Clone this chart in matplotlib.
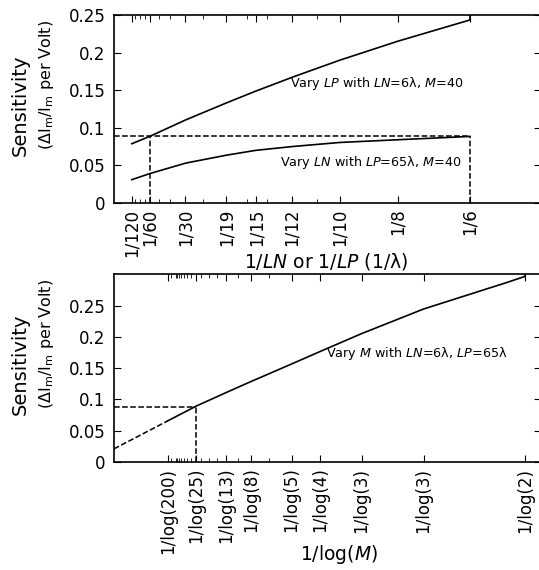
import matplotlib
matplotlib.use("Agg")
import numpy as np
import matplotlib.pyplot as plt

plt.rcParams['font.family'] = 'DejaVu Sans'
plt.rcParams['mathtext.fontset'] = 'dejavusans'

# ---- top panel: sensitivity vs 1/LN or 1/LP ----
top_x = [1/120, 1/60, 1/29.7, 1/18.9, 1/15.06, 1/11.9, 1/9.45, 1/7.52, 1/6]
lp_y = [0.0788, 0.0885, 0.1106, 0.1334, 0.1488, 0.1678, 0.1900, 0.2152, 0.2434]
ln_y = [0.0310, 0.0390, 0.0531, 0.0637, 0.0700, 0.0752, 0.0805, 0.0841, 0.0885]
top_ticks = [1/120, 1/60, 1/30, 1/19, 1/15, 1/12, 1/9.45, 1/7.52, 1/6]
top_tick_labels = ["1/120", "1/60", "1/30", "1/19", "1/15", "1/12", "1/10", "1/8", "1/6"]
top_minor = [1/100, 1/81, 1/70, 1/47, 1/38, 1/24, 1/16, 1/14, 1/10.5]
ref_sens = 0.0885

# ---- bottom panel: sensitivity vs 1/log(M) ----
m_u = [0.1887, 0.2891, 0.3939, 0.4822, 0.6237, 0.7241, 0.8692, 1.0869, 1.3771, 1.4427]
m_y = [0.0658, 0.0895, 0.1111, 0.1289, 0.1568, 0.1768, 0.2053, 0.2447, 0.2868, 0.2968]
extrap_u = [0.0, 0.1887]
extrap_y = [0.021, 0.0658]
bot_ticks = [0.1887, 0.2891, 0.3939, 0.4822, 0.6237, 0.7241, 0.8692, 1.0869, 1.4427]
bot_tick_labels = ["1/log(200)", "1/log(25)", "1/log(13)", "1/log(8)", "1/log(5)",
                   "1/log(4)", "1/log(3)", "1/log(3)", "1/log(2)"]
bot_minor_m = [150, 100, 90, 80, 70, 60, 50, 40, 26, 20, 15.7, 10, 6.3]
m_cross = 0.2891

fig = plt.figure(figsize=(5.39, 5.70), dpi=100)
ax1 = fig.add_axes([0.2115, 0.6439, 0.7925, 0.3298])
ax2 = fig.add_axes([0.2115, 0.1895, 0.7925, 0.3290])

# top
ax1.plot(top_x, lp_y, color="black", lw=1.2)
ax1.plot(top_x, ln_y, color="black", lw=1.2)
ax1.plot([top_x[-1], top_x[-1]], [lp_y[-1], 0.26], color="black", lw=1.2)
ax1.plot([0, top_x[-1]], [ref_sens, ref_sens], "k--", lw=1.1)
ax1.plot([top_x[1], top_x[1]], [0, ref_sens], "k--", lw=1.1)
ax1.plot([top_x[-1], top_x[-1]], [0, ref_sens], "k--", lw=1.1)
ax1.set_xlim(0, 0.2)
ax1.set_ylim(0, 0.25)
ax1.set_yticks([0, 0.05, 0.1, 0.15, 0.2, 0.25])
ax1.set_yticklabels(["0", "0.05", "0.1", "0.15", "0.2", "0.25"])
ax1.set_xticks(top_ticks)
ax1.set_xticklabels(top_tick_labels, rotation=90)
ax1.set_xticks(top_minor, minor=True)
ax1.text(0.0823, 0.159, "Vary $\\it{LP}$ with $\\it{LN}$=6λ, $\\it{M}$=40", fontsize=9.2, va="center")
ax1.text(0.0775, 0.0544, "Vary $\\it{LN}$ with $\\it{LP}$=65λ, $\\it{M}$=40", fontsize=9.2, va="center")
ax1.set_xlabel("1/$\\it{LN}$ or 1/$\\it{LP}$ (1/λ)", fontsize=13.5)
ax1.xaxis.set_label_coords(0.496, -0.255)

# bottom
ax2.plot(m_u, m_y, color="black", lw=1.2)
ax2.plot([m_u[-1], m_u[-1]], [m_y[-1], 0.31], color="black", lw=1.2)
ax2.plot(extrap_u, extrap_y, "k--", lw=1.1)
ax2.plot([0, m_cross], [ref_sens, ref_sens], "k--", lw=1.1)
ax2.plot([m_cross, m_cross], [0, ref_sens], "k--", lw=1.1)
ax2.set_xlim(0, 1.5)
ax2.set_ylim(0, 0.3)
ax2.set_yticks([0, 0.05, 0.1, 0.15, 0.2, 0.25])
ax2.set_yticklabels(["0", "0.05", "0.1", "0.15", "0.2", "0.25"])
ax2.set_xticks(bot_ticks)
ax2.set_xticklabels(bot_tick_labels, rotation=90)
ax2.set_xticks([1 / np.log(m) for m in bot_minor_m], minor=True)
ax2.text(0.745, 0.1737, "Vary $\\it{M}$ with $\\it{LN}$=6λ, $\\it{LP}$=65λ", fontsize=9.2, va="center")
ax2.set_xlabel("1/log($\\it{M}$)", fontsize=13.5)
ax2.xaxis.set_label_coords(0.527, -0.43)

# y labels, two lines each
for ax in (ax1, ax2):
    ax.text(-0.22, 0.52, "Sensitivity", transform=ax.transAxes, rotation=90,
            fontsize=14, ha="center", va="center")
    ax.text(-0.157, 0.63, "(ΔI$_\\mathrm{m}$/I$_\\mathrm{m}$ per Volt)", transform=ax.transAxes,
            rotation=90, fontsize=11.5, ha="center", va="center")
    ax.tick_params(axis="both", which="both", direction="in", top=True, right=True)
    ax.tick_params(axis="both", which="major", length=5, labelsize=12)
    ax.tick_params(axis="both", which="minor", length=3)
    ax.tick_params(axis="y", which="major", pad=6)
    ax.tick_params(axis="x", which="major", pad=4)
    for s in ax.spines.values():
        s.set_linewidth(1.2)

fig.savefig("out.png", dpi=100)
